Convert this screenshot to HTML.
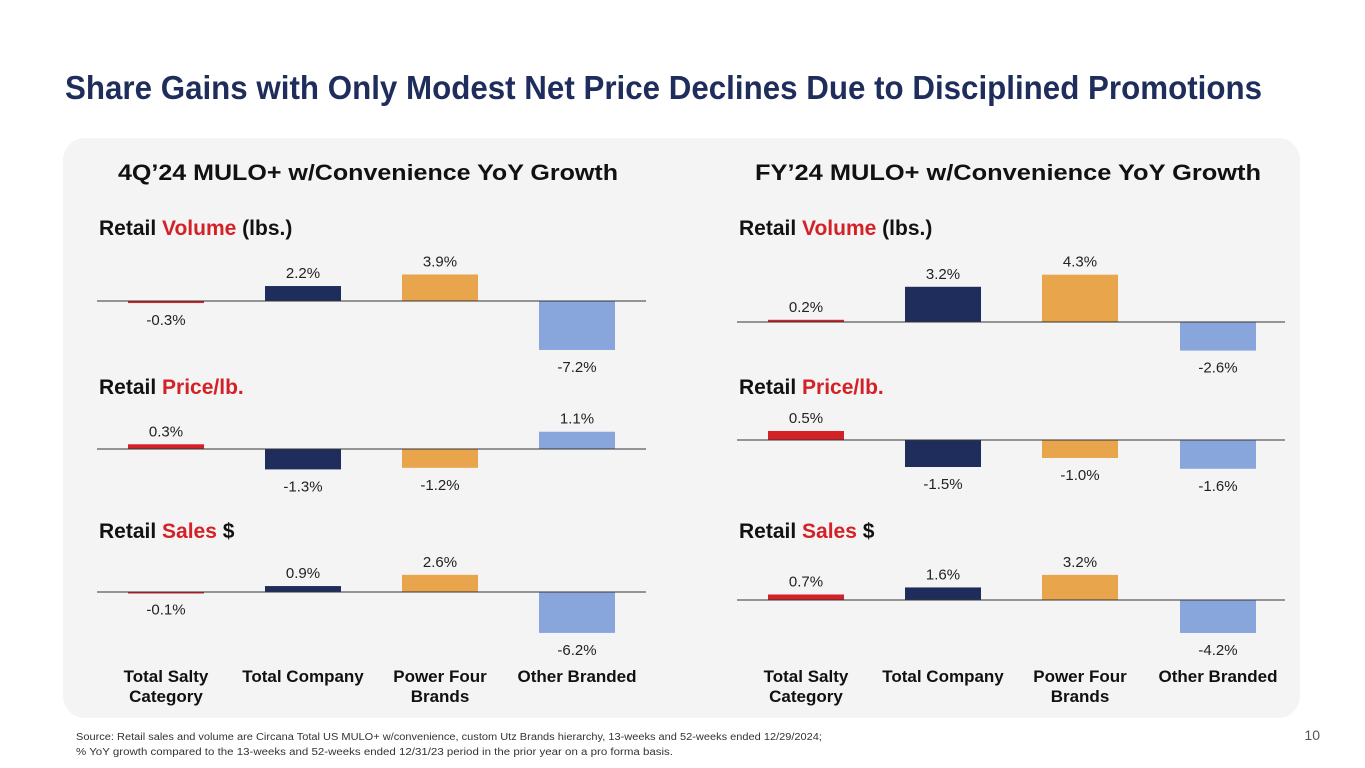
<!DOCTYPE html>
<html><head><meta charset="utf-8"><style>
html,body{margin:0;padding:0;background:#fff;}
svg{display:block;font-family:"Liberation Sans",sans-serif;}
</style></head><body>
<svg id="s" width="1365" height="768" viewBox="0 0 1365 768">
<text x="65" y="99" font-size="33" font-weight="bold" fill="#1f2d5c" textLength="1197" lengthAdjust="spacingAndGlyphs">Share Gains with Only Modest Net Price Declines Due to Disciplined Promotions</text>
<rect x="63" y="138" width="1237" height="580" rx="22" fill="#f4f4f4"/>
<text x="368" y="180" font-size="22" font-weight="bold" fill="#111" text-anchor="middle" textLength="500" lengthAdjust="spacingAndGlyphs">4Q’24 MULO+ w/Convenience YoY Growth</text>
<text x="1008" y="180" font-size="22" font-weight="bold" fill="#111" text-anchor="middle" textLength="506" lengthAdjust="spacingAndGlyphs">FY’24 MULO+ w/Convenience YoY Growth</text>
<g id="charts"></g>
<text x="76" y="740" font-size="10" fill="#333" textLength="746" lengthAdjust="spacingAndGlyphs">Source: Retail sales and volume are Circana Total US MULO+ w/convenience, custom Utz Brands hierarchy, 13-weeks and 52-weeks ended 12/29/2024;</text>
<text x="76" y="755" font-size="10" fill="#333" textLength="597" lengthAdjust="spacingAndGlyphs">% YoY growth compared to the 13-weeks and 52-weeks ended 12/31/23 period in the prior year on a pro forma basis.</text>
<text x="1320" y="740" font-size="14" fill="#555" text-anchor="end">10</text>
</svg>
<script>
const categories = ["Total Salty|Category","Total Company","Power Four|Brands","Other Branded"];
const q4Volume = [-0.3, 2.2, 3.9, -7.2];
const q4Price = [0.3, -1.3, -1.2, 1.1];
const q4Sales = [-0.1, 0.9, 2.6, -6.2];
const fyVolume = [0.2, 3.2, 4.3, -2.6];
const fyPrice = [0.5, -1.5, -1.0, -1.6];
const fySales = [0.7, 1.6, 3.2, -4.2];

const NS = "http://www.w3.org/2000/svg";
const colors = ["#d42027","#1f2d5c","#e8a54b","#88a6dc"];
const g = document.getElementById("charts");
function mk(tag, attrs, txt){const e=document.createElementNS(NS,tag);for(const k in attrs)e.setAttribute(k,attrs[k]);if(txt!==undefined)e.textContent=txt;g.appendChild(e);return e;}

const panels = [
 {x0:97, x1:646, centers:[166,303,440,577], tag:"q4", charts:[
   {title:"Volume", suffix:" (lbs.)", ty:235, base:301, scale:6.8, data:q4Volume},
   {title:"Price/lb.", suffix:"", ty:394, base:449, scale:15.7, data:q4Price},
   {title:"Sales", suffix:" $", ty:538, base:592, scale:6.6, data:q4Sales}]},
 {x0:737, x1:1285, centers:[806,943,1080,1218], tag:"fy", charts:[
   {title:"Volume", suffix:" (lbs.)", ty:235, base:322, scale:11, data:fyVolume},
   {title:"Price/lb.", suffix:"", ty:394, base:440, scale:18, data:fyPrice},
   {title:"Sales", suffix:" $", ty:538, base:600, scale:7.85, data:fySales}]}
];

panels.forEach(p=>{
  p.charts.forEach(c=>{
    const t = mk("text",{x:p.x0+2,y:c.ty,"font-size":21,"font-weight":"bold",fill:"#111"});
    
    
    const a=document.createElementNS(NS,"tspan");a.textContent="Retail ";t.appendChild(a);
    const b=document.createElementNS(NS,"tspan");b.setAttribute("fill","#d42027");b.textContent=c.title;t.appendChild(b);
    const d=document.createElementNS(NS,"tspan");d.textContent=c.suffix;t.appendChild(d);
    const y = v => c.base - v*c.scale;
    c.data.forEach((v,i)=>{
      const cx=p.centers[i], top=Math.min(y(v),c.base), h=Math.max(Math.abs(y(v)-c.base),1.5);
      const r=mk("rect",{x:cx-38,y:top,width:76,height:h,fill:colors[i]});
      
      
      const ly = v>=0 ? y(v)-8 : y(v)+22;
      const l=mk("text",{x:cx,y:ly,"font-size":15,fill:"#222","text-anchor":"middle"},(v<0?"-":"")+Math.abs(v).toFixed(1)+"%");
      
      
    });
    const ln=mk("line",{x1:p.x0,x2:p.x1,y1:c.base,y2:c.base,stroke:"#333","stroke-width":1});
    
    
  });
  categories.forEach((cat,i)=>{
    const parts=cat.split("|");
    parts.forEach((s,j)=>{
      const t=mk("text",{x:p.centers[i],y:682+j*20,"font-size":17,"font-weight":"bold",fill:"#111","text-anchor":"middle"},s);
      
      
    });
  });
});
</script>
</body></html>
